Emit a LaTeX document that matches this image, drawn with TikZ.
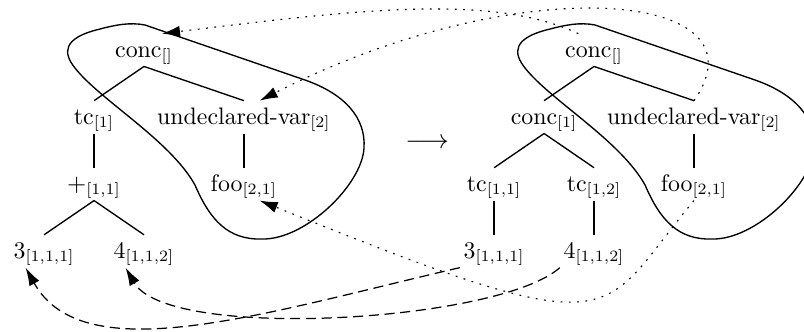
\documentclass[tikz,border=0pt]{standalone}
\usepackage{tikz}
\usetikzlibrary{positioning, arrows.meta}

\begin{document}
\begin{tikzpicture}[
    x=0.4444pt, y=0.4444pt,
    % labels of the tree nodes
    lbl/.style={inner sep=1.5pt, text height=8.7pt, text depth=2.5pt, font=\fontsize{10.6}{12.7}\selectfont},
    branch/.style={line width=0.6pt},
    lasso/.style={line width=0.6pt},
    % links from the new tree back to the old one
    dotlink/.style={line width=0.5pt, dash pattern=on 0.8pt off 2.9pt, -{Latex[length=8pt,width=5pt]}},
    dashlink/.style={line width=0.55pt, dash pattern=on 4.5pt off 2.5pt, -{Latex[length=8pt,width=5pt]}},
    node distance=29.8pt and 22.2pt, on grid
]
\useasboundingbox (0,0) rectangle (804,-331);

% ====================
% left tree
% ====================
\node[lbl, anchor=base] (lconc) at (144,-57) {conc$_{[]}$};
\node[lbl, below left=of lconc] (ltc) {tc$_{[1]}$};
\node[lbl, below right=29.8pt and 44.4pt of lconc] (lvar) {undeclared-var$_{[2]}$};
\node[lbl, below=of ltc] (lplus) {$+_{[1,1]}$};
\node[lbl, below=of lvar] (lfoo) {foo$_{[2,1]}$};
\node[lbl, below left=of lplus] (l3) {3$_{[1,1,1]}$};
\node[lbl, below right=of lplus] (l4) {4$_{[1,1,2]}$};

\draw[branch] (lconc.south) -- (ltc.north);
\draw[branch] (lconc.south) -- (lvar.north);
\draw[branch] (ltc.south) -- (lplus.north);
\draw[branch] (lvar.south) -- (lfoo.north);
\draw[branch] (lplus.south) -- (l3.north);
\draw[branch] (lplus.south) -- (l4.north);

\draw[lasso] (145,-25) -- (305,-80) .. controls (345,-94) and (366,-118) .. (364,-148)
    .. controls (362,-185) and (305,-240) .. (262,-239)
    .. controls (228,-240) and (210,-220) .. (195,-185)
    .. controls (170,-140) and (100,-100) .. (75,-68)
    .. controls (63,-53) and (62,-38) .. (100,-29)
    .. controls (115,-25) and (130,-22) .. (145,-25) -- cycle;

\node[font=\fontsize{12.8}{15}\selectfont] (rw) at (427,-144) {$\longrightarrow$};

% ====================
% right tree
% ====================
\begin{scope}[xshift=200pt]
    \node[lbl, anchor=base] (rconc) at (144,-57) {conc$_{[]}$};
    \node[lbl, below left=of rconc] (rconc1) {conc$_{[1]}$};
    \node[lbl, below right=29.8pt and 44.4pt of rconc] (rvar) {undeclared-var$_{[2]}$};
    \node[lbl, below left=of rconc1] (rtc1) {tc$_{[1,1]}$};
    \node[lbl, below right=of rconc1] (rtc2) {tc$_{[1,2]}$};
    \node[lbl, below=of rvar] (rfoo) {foo$_{[2,1]}$};
    \node[lbl, below=of rtc1] (r3) {3$_{[1,1,1]}$};
    \node[lbl, below=of rtc2] (r4) {4$_{[1,1,2]}$};

    \draw[branch] (rconc.south) -- (rconc1.north);
    \draw[branch] (rconc.south) -- (rvar.north);
    \draw[branch] (rconc1.south) -- (rtc1.north);
    \draw[branch] (rconc1.south) -- (rtc2.north);
    \draw[branch] (rvar.south) -- (rfoo.north);
    \draw[branch] (rtc1.south) -- (r3.north);
    \draw[branch] (rtc2.south) -- (r4.north);

    \draw[lasso] (145,-25) -- (305,-80) .. controls (345,-94) and (366,-118) .. (364,-148)
        .. controls (362,-185) and (305,-240) .. (262,-239)
        .. controls (228,-240) and (210,-220) .. (195,-185)
        .. controls (170,-140) and (100,-100) .. (75,-68)
        .. controls (63,-53) and (62,-38) .. (100,-29)
        .. controls (115,-25) and (130,-22) .. (145,-25) -- cycle;
\end{scope}

% links
\draw[dotlink] ([xshift=-7pt]rconc.north) to[out=155, in=7, out distance=42pt, in distance=89pt] ([xshift=8pt]lconc.north);
\draw[dotlink] (rvar.north) to[out=55, in=27, out distance=60pt, in distance=130pt] ([xshift=7pt]lvar.north);
\draw[dotlink] (rfoo.south) to[out=230, in=-22, out distance=68pt, in distance=178pt] ([xshift=7pt]lfoo.south);
\draw[dashlink] (r3.south west) to[out=193, in=-61, out distance=89pt, in distance=53pt] ([xshift=7pt]l3.south west);
\draw[dashlink] (r4.south west) to[out=222, in=-60, out distance=36pt, in distance=38pt] ([xshift=7pt]l4.south west);

\end{tikzpicture}
\end{document}
